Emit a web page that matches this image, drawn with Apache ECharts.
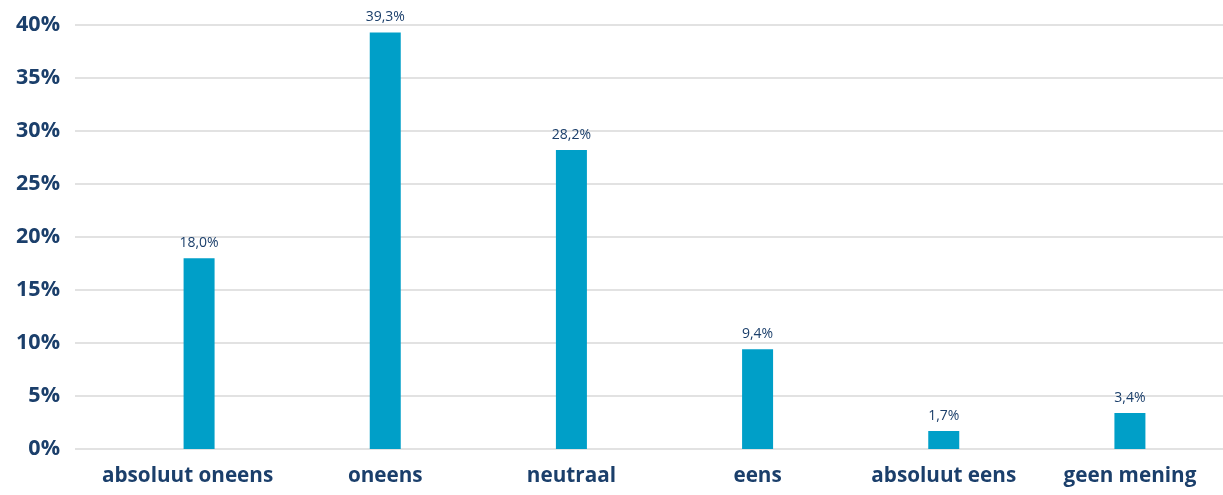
<!DOCTYPE html>
<html>
<head>
<meta charset="utf-8">
<script src="https://cdn.jsdelivr.net/npm/echarts@6/dist/echarts.min.js"></script>
<style>
  html, body { margin: 0; padding: 0; background: #ffffff; }
  #chart { width: 1223px; height: 495px; }
</style>
</head>
<body>
<div id="chart"></div>
<script>
// Answer categories and share of respondents (%)
const categories = ['absoluut oneens', 'oneens', 'neutraal', 'eens', 'absoluut eens', 'geen mening'];
const shares = [18.0, 39.3, 28.2, 9.4, 1.7, 3.4];
const yTicks = [0, 5, 10, 15, 20, 25, 30, 35, 40];

const navy = '#1b3f6b';
const barColor = '#009fc8';
const fmt = v => v.toFixed(1).replace('.', ',') + '%';

const chart = echarts.init(document.getElementById('chart'));
chart.setOption({
  animation: false,
  grid: [
    // value grid with labels and horizontal lines
    { left: 75, right: 0, top: 25, bottom: 46, containLabel: false },
    // bar grid, slightly inset so categories are centred where the bars sit
    { left: 106, right: -3, top: 25, bottom: 46, containLabel: false }
  ],
  xAxis: [
    { gridIndex: 0, type: 'category', data: categories, show: false },
    {
      gridIndex: 1, type: 'category', data: categories,
      axisLine: { show: false }, axisTick: { show: false },
      axisLabel: {
        color: navy, fontFamily: 'Open Sans', fontWeight: 'bold', fontSize: 20.7,
        margin: 17, interval: 0,
        // the first label sits a little to the left of its bar
        formatter: (v, i) => i === 0 ? '{first|' + v + '}' : v,
        rich: {
          first: {
            color: navy, fontFamily: 'Open Sans', fontWeight: 'bold', fontSize: 20.7,
            padding: [0, 23, 0, 0]
          }
        }
      }
    }
  ],
  yAxis: [
    {
      gridIndex: 0, type: 'value', min: yTicks[0], max: yTicks[yTicks.length - 1], interval: 5,
      axisLine: { show: false }, axisTick: { show: false },
      splitLine: { lineStyle: { color: '#d9d9d9', width: 1.5 } },
      axisLabel: {
        color: navy, fontFamily: 'Open Sans', fontWeight: 'bold', fontSize: 21.5,
        margin: 15, formatter: v => v + '%'
      }
    },
    {
      gridIndex: 1, type: 'value', min: yTicks[0], max: yTicks[yTicks.length - 1], interval: 5,
      show: false
    }
  ],
  series: [{
    type: 'bar',
    xAxisIndex: 1, yAxisIndex: 1,
    data: shares,
    barWidth: 31,
    itemStyle: { color: barColor },
    label: {
      show: true, position: 'top', distance: 8,
      color: navy, fontFamily: 'Open Sans', fontSize: 14,
      formatter: p => fmt(p.value)
    }
  }]
});
</script>
</body>
</html>
